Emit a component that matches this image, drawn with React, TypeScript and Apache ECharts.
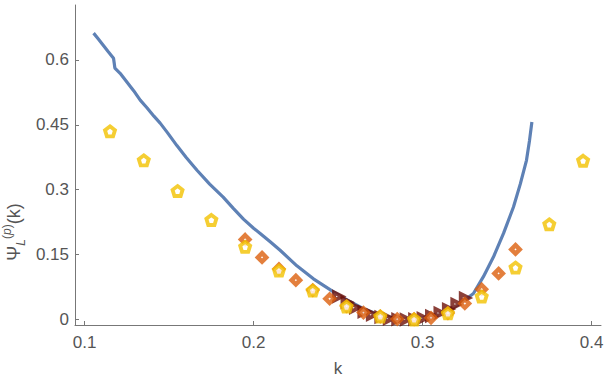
import React, { useEffect, useRef } from "react";
import * as echarts from "echarts";

// Blue curve (k, value)
const lineK = [0.1053, 0.108, 0.111, 0.114, 0.1171, 0.1175, 0.1179, 0.121, 0.125, 0.129, 0.1329, 0.137, 0.141, 0.1447, 0.149, 0.1546, 0.16, 0.1665, 0.174, 0.182, 0.188, 0.194, 0.2, 0.2039, 0.21, 0.2157, 0.2256, 0.2354, 0.2473, 0.2572, 0.265, 0.275, 0.285, 0.295, 0.305, 0.315, 0.322, 0.3301, 0.336, 0.342, 0.3479, 0.3538, 0.3579, 0.3615, 0.3633, 0.3647];
const lineV = [0.662, 0.649, 0.634, 0.619, 0.604, 0.593, 0.581, 0.569, 0.549, 0.529, 0.507, 0.489, 0.47, 0.454, 0.432, 0.402, 0.375, 0.345, 0.313, 0.283, 0.257, 0.232, 0.211, 0.199, 0.179, 0.16, 0.124, 0.094, 0.064, 0.041, 0.025, 0.01, 0.002, 0.001, 0.008, 0.022, 0.036, 0.06, 0.099, 0.145, 0.199, 0.26, 0.314, 0.368, 0.414, 0.4565];

// Yellow pentagons
const yellowK = [0.115, 0.135, 0.155, 0.175, 0.195, 0.215, 0.235, 0.255, 0.275, 0.295, 0.315, 0.335, 0.355, 0.375, 0.395];
const yellowV = [0.435, 0.368, 0.297, 0.23, 0.168, 0.113, 0.067, 0.03, 0.007, 0.0, 0.014, 0.053, 0.12, 0.22, 0.367];

// Orange diamonds
const orangeK = [0.195, 0.205, 0.215, 0.225, 0.235, 0.245, 0.255, 0.265, 0.275, 0.285, 0.295, 0.305, 0.315, 0.325, 0.335, 0.345, 0.355];
const orangeV = [0.185, 0.1435, 0.117, 0.091, 0.068, 0.048, 0.031, 0.016, 0.007, 0.001, 0.001, 0.004, 0.015, 0.037, 0.07, 0.1066, 0.162];

// Dark red triangles
const redK = [0.25, 0.255, 0.26, 0.265, 0.27, 0.275, 0.28, 0.285, 0.29, 0.295, 0.3, 0.305, 0.31, 0.315, 0.32, 0.325];
const redV = [0.053, 0.04, 0.027, 0.018, 0.011, 0.006, 0.002, 0.0005, 0.0, 0.0005, 0.003, 0.008, 0.015, 0.024, 0.036, 0.05];

const xTicks = [0.1, 0.2, 0.3, 0.4];
const yTicks = [0, 0.15, 0.3, 0.45, 0.6];

const pentagon = "path://M0,-10 L9.51,-3.09 L5.88,8.09 L-5.88,8.09 L-9.51,-3.09 Z";

const zip = (a: number[], b: number[]) => a.map((v, i) => [v, b[i]]);

export default function App() {
  const ref = useRef<HTMLDivElement>(null);
  useEffect(() => {
    if (!ref.current) return;
    const chart = echarts.init(ref.current, null, { renderer: "svg" });
    const axisColor = "#777";
    const labelColor = "#555";
    const font = "Liberation Sans";
    chart.setOption({
      animation: false,
      backgroundColor: "#fff",
      grid: { left: 75, right: 4, top: 5, bottom: 55, containLabel: false, outerBoundsMode: "none" },
      graphic: [
        {
          type: "text",
          x: 14,
          y: 232,
          rotation: Math.PI / 2,
          style: {
            text: "{a|Ψ}{s|L}{p|(}{pi|p}{p|)}{a|(k)}",
            align: "center",
            verticalAlign: "middle",
            fill: labelColor,
            fontFamily: font,
            rich: {
              a: { fontSize: 18, fill: labelColor, fontFamily: font, lineHeight: 26, verticalAlign: "middle" },
              s: { fontSize: 12, fontStyle: "italic", fill: labelColor, fontFamily: font, lineHeight: 12, verticalAlign: "bottom" },
              p: { fontSize: 12, fill: labelColor, fontFamily: font, lineHeight: 12, verticalAlign: "top" },
              pi: { fontSize: 12, fontStyle: "italic", fill: labelColor, fontFamily: font, lineHeight: 12, verticalAlign: "top" },
            },
          },
        },
      ],
      xAxis: {
        type: "value",
        min: 0.0943,
        max: 0.4056,
        name: "k",
        nameLocation: "middle",
        nameGap: 35,
        nameTextStyle: { color: labelColor, fontSize: 17, fontFamily: font },
        axisLine: { show: true, onZero: false, lineStyle: { color: axisColor, width: 1 } },
        axisTick: { show: true, inside: true, length: 4, customValues: xTicks, lineStyle: { color: axisColor } },
        axisLabel: { customValues: xTicks, color: labelColor, fontSize: 17, fontFamily: font, margin: 9, formatter: (v: number) => String(v) },
        splitLine: { show: false },
      },
      yAxis: {
        type: "value",
        min: -0.0127,
        max: 0.727,
        axisLine: { show: true, onZero: false, lineStyle: { color: axisColor, width: 1 } },
        axisTick: { show: true, inside: true, length: 4, customValues: yTicks, lineStyle: { color: axisColor } },
        axisLabel: { customValues: yTicks, color: labelColor, fontSize: 17, fontFamily: font, margin: 6, formatter: (v: number) => String(v) },
        splitLine: { show: false },
      },
      series: [
        {
          type: "line",
          data: zip(lineK, lineV),
          showSymbol: false,
          symbol: "none",
          lineStyle: { color: "#5E81B5", width: 3.2 },
          z: 1,
        },
        {
          type: "scatter",
          data: zip(redK, redV),
          symbol: "triangle",
          symbolRotate: -90,
          symbolSize: 8,
          itemStyle: { color: "#fff", borderColor: "#6E1008", borderWidth: 4 },
          z: 2,
        },
        {
          type: "scatter",
          data: zip(orangeK, orangeV),
          symbol: "diamond",
          symbolSize: 8.5,
          itemStyle: { color: "#fff", borderColor: "#DC5F0C", borderWidth: 4.4 },
          z: 3,
        },
        {
          type: "scatter",
          data: zip(yellowK, yellowV),
          symbol: pentagon,
          symbolSize: 10,
          itemStyle: { color: "#fff", borderColor: "#F2C200", borderWidth: 3.8 },
          z: 4,
        },
      ],
    });
    return () => chart.dispose();
  }, []);
  return <div ref={ref} style={{ width: 605, height: 380, position: "absolute", left: 0, top: 0 }} />;
}
